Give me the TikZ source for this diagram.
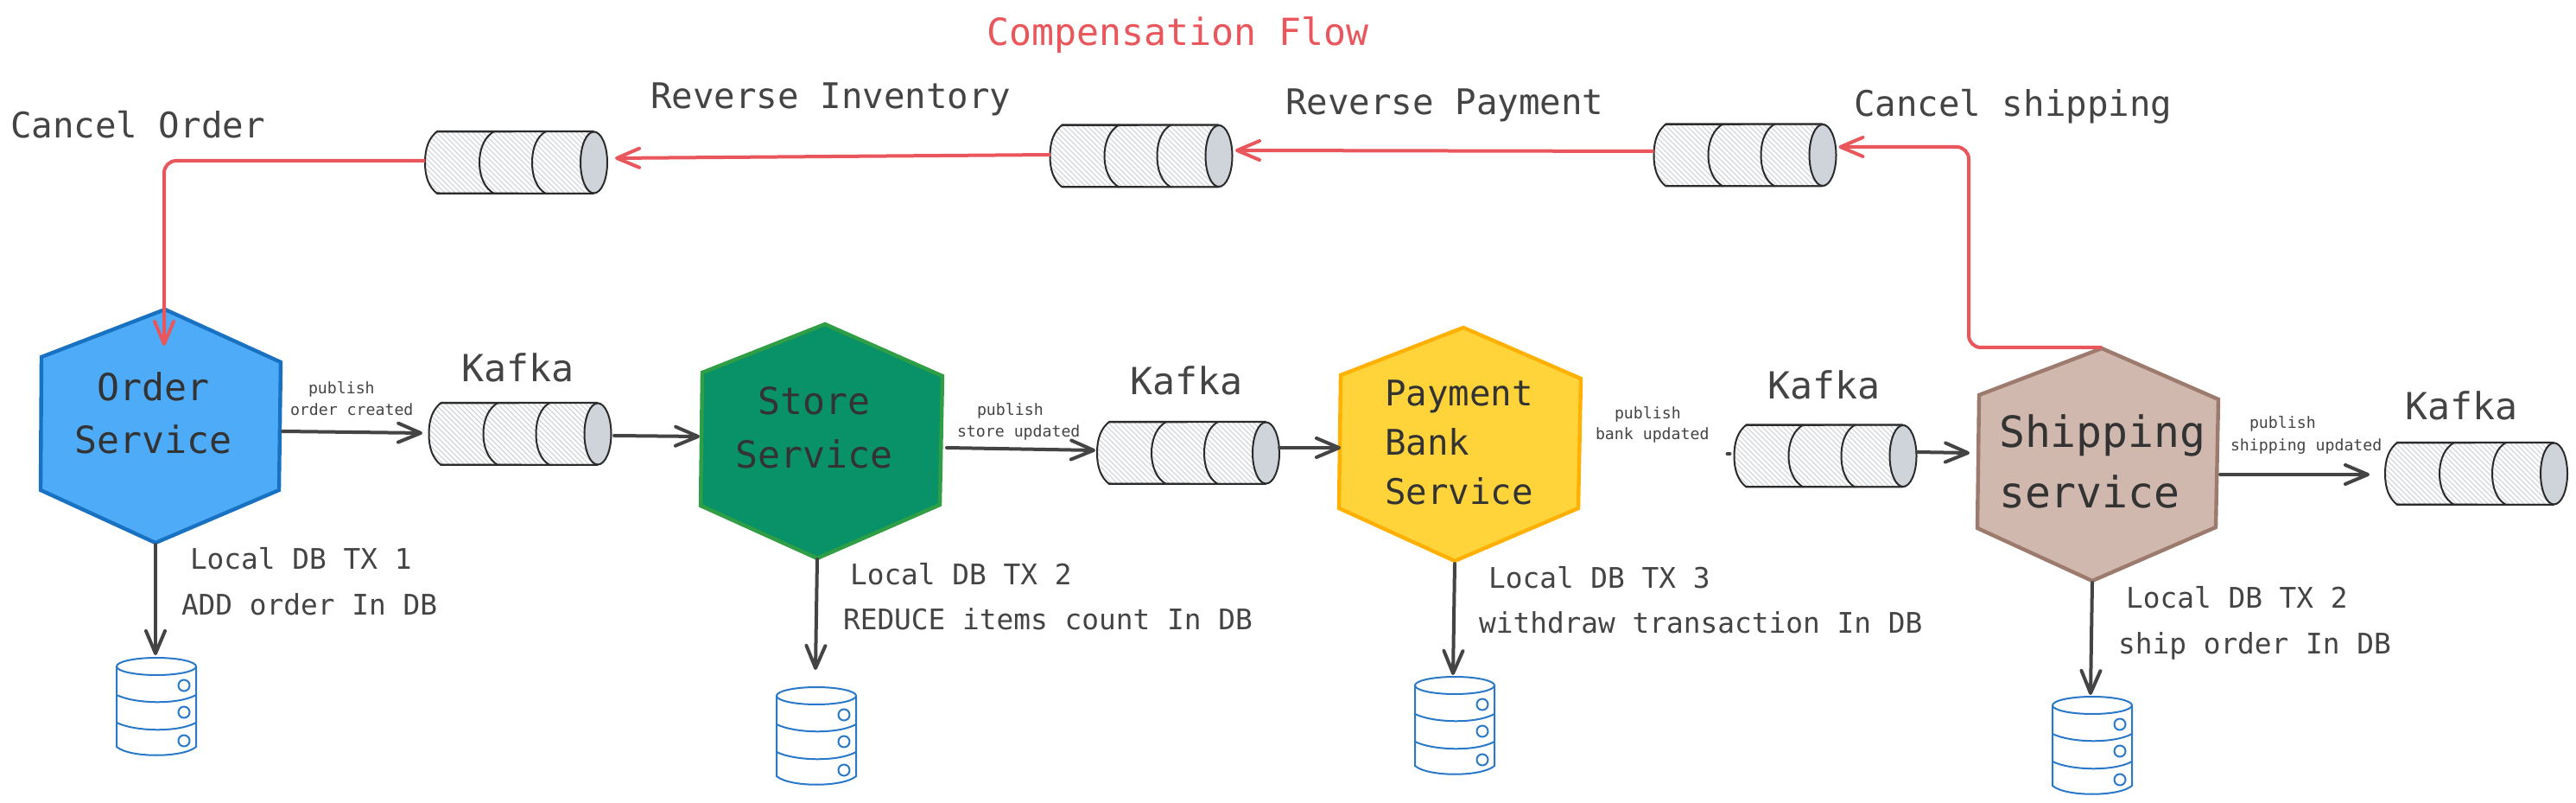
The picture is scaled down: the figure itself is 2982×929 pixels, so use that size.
\documentclass[tikz,border=0pt]{standalone}
\usepackage{fontspec}
\setmainfont{DejaVu Sans Mono}
\usetikzlibrary{arrows.meta}
\definecolor{ink}{HTML}{444444}
\definecolor{hexink}{HTML}{333333}
\definecolor{redline}{HTML}{E9565C}
\definecolor{qhatch}{HTML}{D3D6DA}
\definecolor{qend}{HTML}{CED4DA}
\definecolor{qline}{HTML}{2B2B2B}
\definecolor{dbblue}{HTML}{2A78C8}
\definecolor{orderfill}{HTML}{4DABF7}
\definecolor{orderline}{HTML}{1971C2}
\definecolor{storefill}{HTML}{099268}
\definecolor{storeline}{HTML}{2F9E44}
\definecolor{payfill}{HTML}{FFD43B}
\definecolor{payline}{HTML}{FFB000}
\definecolor{shipfill}{HTML}{D0B8AE}
\definecolor{shipline}{HTML}{9C7B6E}
\tikzset{
  hexbox/.style={draw=none,inner sep=0pt,outer sep=0pt},
  qbox/.style={draw=none,inner sep=0pt,outer sep=0pt,minimum width=105.5pt,minimum height=36pt},
  dbbox/.style={draw=none,inner sep=0pt,outer sep=0pt,minimum width=46pt,minimum height=57pt},
  hexshape/.style={line width=2.2pt,line join=miter},
  txt/.style={anchor=base west,inner sep=0pt,outer sep=0pt,text=ink},
  hextxt/.style={anchor=base west,inner sep=0pt,outer sep=0pt,text=hexink},
  flowarrow/.style={line width=2pt,draw=ink,line cap=round,-{Straight Barb[length=13pt,width=11pt,round]}},
  redarrow/.style={line width=2pt,draw=redline,rounded corners=7pt,-{Straight Barb[length=13pt,width=11pt,round]}},
  qstroke/.style={draw=qline,line width=1pt,line cap=round},
  dbstroke/.style={draw=dbblue,line width=1pt,line cap=round},
}
\newcommand{\ftitle}{\fontsize{21.6}{26}\selectfont}
\newcommand{\fhead}{\fontsize{20.4}{26}\selectfont}
\newcommand{\fdb}{\fontsize{16.4}{20}\selectfont}
\newcommand{\fsmall}{\fontsize{9.1}{12.5}\selectfont}
\newcommand{\queuenode}[3]{%
  \node[qbox] (#1) at (#2,#3) {};
  \begin{scope}[shift={(#1.north west)}]
    \begin{scope}
      \clip (14,0) .. controls (4,8) and (0,20) .. (0,36) .. controls (0,52) and (4,64) .. (14,72) -- (197,72) -- (197,0) -- cycle;
      \foreach \k in {-72,-66,...,200} {\draw[qhatch,line width=0.6pt] (\k,0) -- ({\k+72},72);}
    \end{scope}
    \draw[qstroke] (195,72) -- (14,72) .. controls (4,64) and (0,52) .. (0,36) .. controls (0,20) and (4,8) .. (14,0) -- (195,0);
    \draw[qstroke,line width=0.5pt] (12,1) -- (198,0.5) (14,71) -- (198,71.5);
    \draw[qstroke] (80,0) .. controls (69,6) and (63,20) .. (63,36) .. controls (63,52) and (69,66) .. (80,72);
    \draw[qstroke] (140,0) .. controls (129,6) and (124,20) .. (124,36) .. controls (124,52) and (129,66) .. (140,72);
    \draw[qstroke,fill=qend] (195.5,36) ellipse[x radius=15.5,y radius=35.5];
  \end{scope}
}
\newcommand{\dbnode}[3]{%
  \node[dbbox] (#1) at (#2,{#3+57}) {};
  \begin{scope}[shift={(#1.north west)}]
    \draw[dbstroke] (0,10) -- (0,103) .. controls (15,116) and (77,116) .. (92,103) -- (92,10);
    \draw[dbstroke] (46,10) ellipse[x radius=46,y radius=10];
    \draw[dbstroke] (0,43) .. controls (20,53) and (70,55) .. (92,43);
    \draw[dbstroke] (0,75) .. controls (20,85) and (70,87) .. (92,75);
    \draw[dbstroke] (78,32) circle[radius=6.5] (78,63) circle[radius=6.5] (78,96) circle[radius=6.5];
  \end{scope}
}
\begin{document}
\begin{tikzpicture}[x=0.5pt,y=-0.5pt]
\useasboundingbox (0,0) rectangle (2982,929);

% hexagons
\draw[hexshape,fill=orderfill,draw=orderline] (191,358) -- (325,419) -- (323,567) -- (180,628) -- (47,567) -- (48,413) -- cycle;
\draw[hexshape,fill=storefill,draw=storeline] (955,375) -- (1091,435) -- (1088,584) -- (946,646) -- (811,585) -- (813,431) -- cycle;
\draw[hexshape,fill=payfill,draw=payline] (1694,379) -- (1830,438) -- (1827,588) -- (1684,649) -- (1550,588) -- (1552,434) -- cycle;
\draw[hexshape,fill=shipfill,draw=shipline] (2433,403) -- (2568,462) -- (2565,610) -- (2422,672) -- (2289,611) -- (2291,457) -- cycle;
\node[hexbox,minimum width=139pt,minimum height=135pt] (order) at (186,493) {};
\node[hexbox,minimum width=140pt,minimum height=135.5pt] (store) at (951,510.5) {};
\node[hexbox,minimum width=140pt,minimum height=135pt] (pay) at (1690,514) {};
\node[hexbox,minimum width=139.5pt,minimum height=134.5pt] (ship) at (2428.5,537.5) {};

% hexagon labels
\node[hextxt,font=\fontsize{21.6}{30.5}\selectfont] (ordertext) at (86,464) {\begin{tabular}[t]{@{}c@{}}Order\\Service\end{tabular}};
\node[hextxt,font=\fontsize{21.6}{31}\selectfont] (storetext) at (851,480) {\begin{tabular}[t]{@{}c@{}}Store\\Service\end{tabular}};
\node[hextxt,font=\fontsize{20.4}{28.5}\selectfont] (paytext) at (1603,470) {\begin{tabular}[t]{@{}l@{}}Payment\\Bank\\Service\end{tabular}};
\node[hextxt,font=\fontsize{24.9}{35}\selectfont] (shiptext) at (2314,518) {\begin{tabular}[t]{@{}l@{}}Shipping\\service\end{tabular}};

% queues
\queuenode{qc1}{597.5}{188}
\queuenode{qc2}{1321}{180.5}
\queuenode{qc3}{2020}{179.5}
\queuenode{k1}{602}{502}
\queuenode{k2}{1375.5}{524}
\queuenode{k3}{2113}{527.5}
\queuenode{k4}{2866.5}{548}

% databases
\dbnode{db1}{181}{761}
\dbnode{db2}{945}{795}
\dbnode{db3}{1684}{783}
\dbnode{db4}{2422}{806}

% flow connectors
\draw[flowarrow] ([shift={(2,6)}]order.east) -- ([shift={(-7.5,-1)}]k1.west);
\draw[flowarrow] ([shift={(3.5,2)}]k1.east) -- ([shift={(-1,-5.5)}]store.west);
\draw[flowarrow] ([shift={(5,7.5)}]store.east) -- ([shift={(-2,-3)}]k2.west);
\draw[flowarrow] ([shift={(0,-6)}]k2.east) -- ([shift={(2,4)}]pay.west);
\draw[line width=2pt,draw=ink,line cap=round] ([shift={(-8,-2.5)}]k3.west) -- ([shift={(-5,-2.5)}]k3.west);
\draw[flowarrow] ([shift={(0.5,-4.5)}]k3.east) -- ([shift={(-9,-13.5)}]ship.west);
\draw[flowarrow] ([shift={(2,11.5)}]ship.east) -- ([shift={(-18,1)}]k4.west);
\draw[flowarrow] ([shift={(-6,2)}]order.south) -- ([shift={(-1,-3)}]db1.north);
\draw[flowarrow] ([shift={(-5,1)}]store.south) -- ([shift={(-1,-20)}]db2.north);
\draw[flowarrow] ([shift={(-6,3)}]pay.south) -- ([shift={(-2,-2)}]db3.north);
\draw[flowarrow] ([shift={(-6.5,2)}]ship.south) -- ([shift={(-2,-2)}]db4.north);

% compensation connectors
\coordinate (shipbend) at (2279,170);
\draw[redarrow] ([shift={(0,-2)}]qc1.west) -| ([shift={(4,42)}]order.north);
\draw[redarrow] ([shift={(0.5,-1.5)}]qc2.west) -- ([shift={(9,-5)}]qc1.east);
\draw[redarrow] ([shift={(0,-4.5)}]qc3.west) -- ([shift={(3.5,-6.5)}]qc2.east);
\draw[redarrow] ([shift={(4.5,-1)}]ship.north) -| (shipbend) -- ([shift={(3,-9.5)}]qc3.east);

% texts
\node[txt,font=\ftitle,text=redline] (title) at (1142,53) {Compensation Flow};
\node[txt,font=\fhead] (t1) at (12,160) {Cancel Order};
\node[txt,font=\fhead] (t2) at (753,126) {Reverse Inventory};
\node[txt,font=\fhead] (t3) at (1488,133) {Reverse Payment};
\node[txt,font=\fhead] (t4) at (2146,135) {Cancel shipping};
\node[txt,font=\ftitle] (ka1) at (534,442) {Kafka};
\node[txt,font=\ftitle] (ka2) at (1308,457) {Kafka};
\node[txt,font=\ftitle] (ka3) at (2046,462) {Kafka};
\node[txt,font=\ftitle] (ka4) at (2784,486) {Kafka};

\node[txt,font=\fsmall] (p1a) at (357,456) {publish};
\node[txt,font=\fsmall] (p1b) at (336,481) {order created};
\node[txt,font=\fsmall] (p2a) at (1131,481) {publish};
\node[txt,font=\fsmall] (p2b) at (1108,506) {store updated};
\node[txt,font=\fsmall] (p3a) at (1869,485) {publish};
\node[txt,font=\fsmall] (p3b) at (1847,509) {bank updated};
\node[txt,font=\fsmall] (p4a) at (2604,496) {publish};
\node[txt,font=\fsmall] (p4b) at (2582,522) {shipping updated};

\node[txt,font=\fdb] (l1a) at (220,659) {Local DB TX 1};
\node[txt,font=\fdb] (l1b) at (210,712) {ADD order In DB};
\node[txt,font=\fdb] (l2a) at (984,677) {Local DB TX 2};
\node[txt,font=\fdb] (l2b) at (976,729) {REDUCE items count In DB};
\node[txt,font=\fdb] (l3a) at (1723,681) {Local DB TX 3};
\node[txt,font=\fdb] (l3b) at (1712,733) {withdraw transaction In DB};
\node[txt,font=\fdb] (l4a) at (2461,704) {Local DB TX 2};
\node[txt,font=\fdb] (l4b) at (2452,757) {ship order In DB};
\end{tikzpicture}
\end{document}
